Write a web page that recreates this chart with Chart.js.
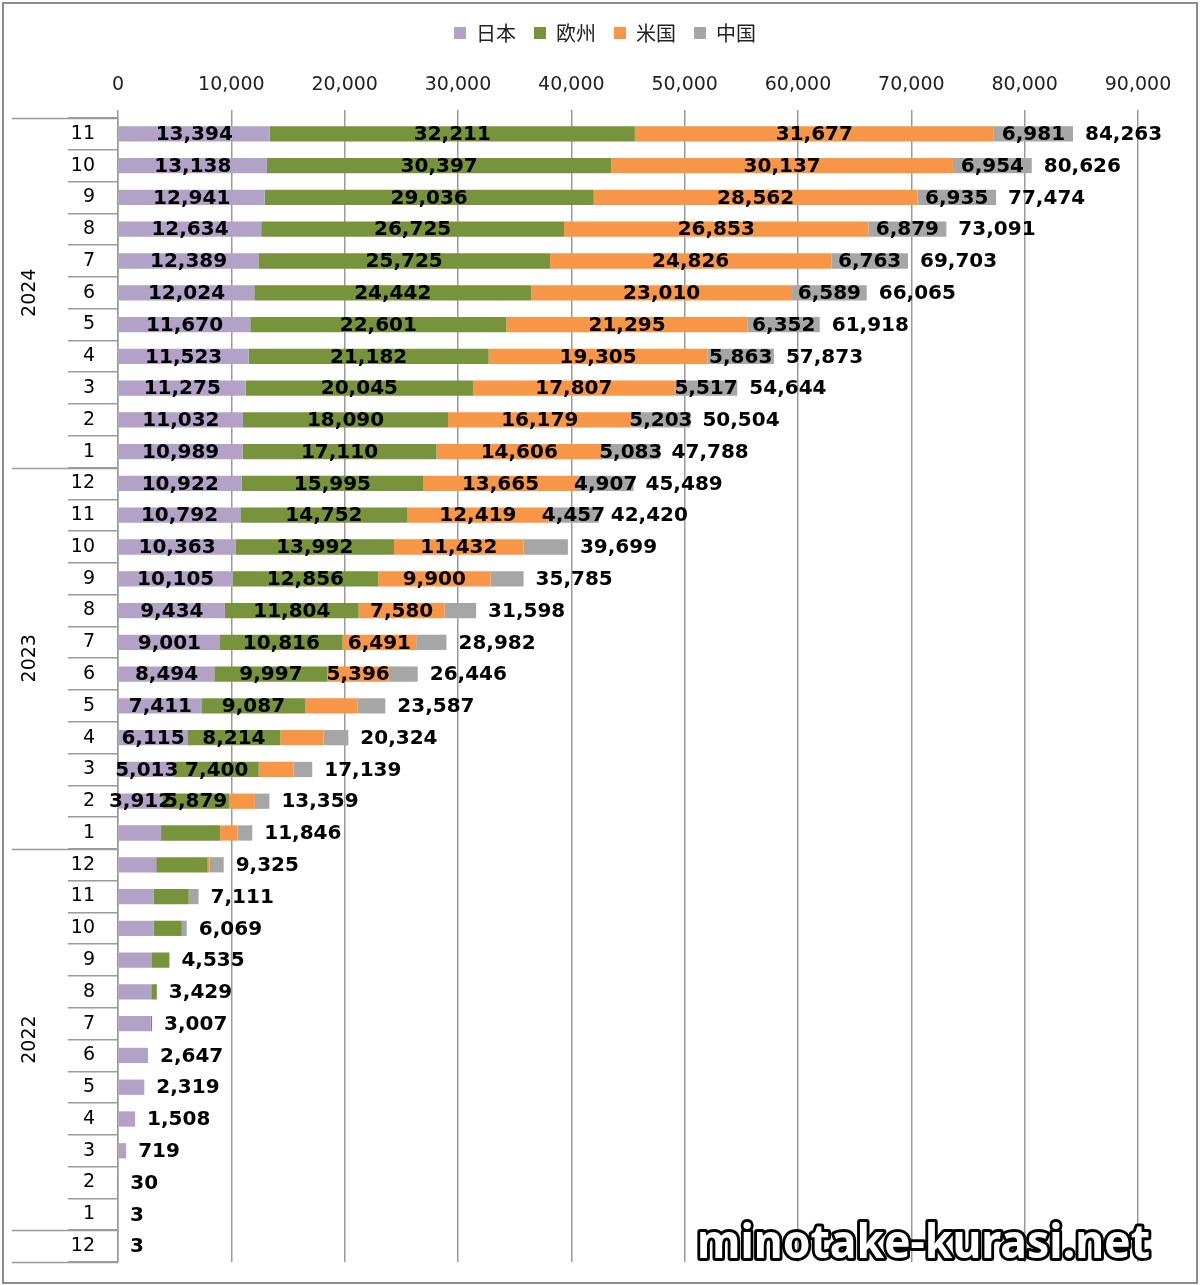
<!DOCTYPE html>
<html lang="ja">
<head>
<meta charset="utf-8">
<title>地域別 累計</title>
<script src="https://cdn.jsdelivr.net/npm/chart.js@4.4.1/dist/chart.umd.min.js"></script>
<style>
  html, body { margin: 0; padding: 0; background: #fff; }
  #wrap { width: 1200px; height: 1285px; }
</style>
</head>
<body>
<div id="wrap"><canvas id="chart" width="1200" height="1285"></canvas></div>
<script>
// rows top -> bottom: 2024/11 ... 2021/12
const categories = [
    '2024/11', '2024/10', '2024/9', '2024/8', '2024/7', '2024/6', '2024/5', '2024/4', '2024/3', '2024/2', '2024/1',
    '2023/12', '2023/11', '2023/10', '2023/9', '2023/8', '2023/7', '2023/6', '2023/5', '2023/4', '2023/3', '2023/2', '2023/1',
    '2022/12', '2022/11', '2022/10', '2022/9', '2022/8', '2022/7', '2022/6', '2022/5', '2022/4', '2022/3', '2022/2', '2022/1',
    '2021/12'
];
const yearLabels = ['2024', '2023', '2022', ''];
const yearCounts = [11, 12, 12, 1];

const seriesNames = ['日本', '欧州', '米国', '中国'];

const japan = [
    13394, 13138, 12941, 12634, 12389, 12024, 11670, 11523, 11275, 11032, 10989,
    10922, 10792, 10363, 10105, 9434, 9001, 8494, 7411, 6115, 5013, 3912, 3800,
    3370, 3140, 3140, 3000, 2935, 2890, 2647, 2319, 1508, 719, 30, 3,
    3
];
const europe = [
    32211, 30397, 29036, 26725, 25725, 24442, 22601, 21182, 20045, 18090, 17110,
    15995, 14752, 13992, 12856, 11804, 10816, 9997, 9087, 8214, 7400, 5879, 5210,
    4545, 3100, 2490, 1535, 494, 117, 0, 0, 0, 0, 0, 0,
    0
];
const usa = [
    31677, 30137, 28562, 26853, 24826, 23010, 21295, 19305, 17807, 16179, 14606,
    13665, 12419, 11432, 9900, 7580, 6491, 5396, 4650, 3800, 3060, 2290, 1520,
    150, 0, 0, 0, 0, 0, 0, 0, 0, 0, 0, 0,
    0
];
const china = [
    6981, 6954, 6935, 6879, 6763, 6589, 6352, 5863, 5517, 5203, 5083,
    4907, 4457, 3912, 2924, 2780, 2674, 2559, 2439, 2195, 1666, 1278, 1316,
    1260, 871, 439, 0, 0, 0, 0, 0, 0, 0, 0, 0,
    0
];
const totals = [
    84263, 80626, 77474, 73091, 69703, 66065, 61918, 57873, 54644, 50504, 47788,
    45489, 42420, 39699, 35785, 31598, 28982, 26446, 23587, 20324, 17139, 13359, 11846,
    9325, 7111, 6069, 4535, 3429, 3007, 2647, 2319, 1508, 719, 30, 3,
    3
];
// segments smaller than this carry no label in the original
const labelMin = [3900, 5500, 5000, 4400];

const xTicks = [0, 10000, 20000, 30000, 40000, 50000, 60000, 70000, 80000, 90000];

const colors = ['#b3a2c7', '#77933c', '#f79646', '#a6a6a6'];
const LINE = '#9a9a9a';
const NUM_FONT = "'DejaVu Sans', Verdana, sans-serif";

const fmt = v => v.toLocaleString('en-US');

// Extra drawing: segment values, totals, year grouping, frame, watermark
const decorPlugin = {
    id: 'decor',
    afterLayout(chart) {
        // the original legend sits a bit right of centre
        chart.legend.left += 60;
    },
    afterDatasetsDraw(chart) {
        const ctx = chart.ctx;
        const xScale = chart.scales.x;
        ctx.save();
        ctx.font = 'bold 20px ' + NUM_FONT;
        ctx.fillStyle = '#000';
        ctx.textBaseline = 'middle';

        // values inside each segment
        ctx.textAlign = 'center';
        chart.data.datasets.forEach((ds, di) => {
            const meta = chart.getDatasetMeta(di);
            meta.data.forEach((bar, i) => {
                const v = ds.data[i];
                if (v < labelMin[di]) return;
                ctx.fillText(fmt(v), (bar.x + bar.base) / 2, bar.y + 1);
            });
        });

        // totals after each bar
        ctx.textAlign = 'left';
        const meta0 = chart.getDatasetMeta(0);
        totals.forEach((t, i) => {
            const x = xScale.getPixelForValue(t) + 12;
            ctx.fillText(fmt(t), x, meta0.data[i].y + 1);
        });
        ctx.restore();
    },
    afterDraw(chart) {
        const ctx = chart.ctx;
        const yScale = chart.scales.y;
        const area = chart.chartArea;
        const half = (yScale.getPixelForValue(1) - yScale.getPixelForValue(0)) / 2;
        ctx.save();

        // year separators and rotated year labels
        ctx.strokeStyle = LINE;
        ctx.lineWidth = 1.5;
        let idx = 0;
        const edges = [yScale.getPixelForValue(0) - half];
        yearCounts.forEach((n, g) => {
            const top = yScale.getPixelForValue(idx) - half;
            const bottom = yScale.getPixelForValue(idx + n - 1) + half;
            edges.push(bottom);
            if (yearLabels[g]) {
                ctx.save();
                ctx.translate(30, (top + bottom) / 2);
                ctx.rotate(-Math.PI / 2);
                ctx.font = '19px ' + NUM_FONT;
                ctx.fillStyle = '#000';
                ctx.textAlign = 'center';
                ctx.textBaseline = 'middle';
                ctx.fillText(yearLabels[g], 0, 0);
                ctx.restore();
            }
            idx += n;
        });
        edges.forEach(y => {
            ctx.beginPath();
            ctx.moveTo(12, Math.round(y) + 0.5);
            ctx.lineTo(area.left, Math.round(y) + 0.5);
            ctx.stroke();
        });

        // outer frame
        ctx.strokeStyle = '#8c8c8c';
        ctx.lineWidth = 2;
        ctx.strokeRect(3, 3, chart.width - 6, chart.height - 5);

        // watermark
        ctx.font = "bold 46px 'Noto Sans', 'DejaVu Sans', sans-serif";
        ctx.textAlign = 'left';
        ctx.textBaseline = 'alphabetic';
        ctx.lineJoin = 'round';
        ctx.lineWidth = 6;
        ctx.strokeStyle = '#000';
        ctx.strokeText('minotake-kurasi.net', 697, 1258, 453);
        ctx.fillStyle = '#fff';
        ctx.fillText('minotake-kurasi.net', 697, 1258, 453);
        ctx.restore();
    }
};

const seriesData = [japan, europe, usa, china];

new Chart(document.getElementById('chart'), {
    type: 'bar',
    data: {
        labels: categories,
        datasets: seriesNames.map((name, i) => ({
            label: name,
            data: seriesData[i],
            backgroundColor: colors[i],
            borderWidth: 0,
            categoryPercentage: 1,
            barPercentage: 0.48
        }))
    },
    options: {
        indexAxis: 'y',
        responsive: false,
        animation: false,
        devicePixelRatio: 1,
        layout: {
            padding: { top: 5, left: 12, right: 62, bottom: 23 }
        },
        plugins: {
            legend: {
                position: 'top',
                labels: {
                    boxWidth: 12,
                    boxHeight: 12,
                    padding: 18,
                    color: '#222',
                    font: { size: 20, family: "'Noto Sans CJK JP', sans-serif" }
                }
            },
            tooltip: { enabled: false }
        },
        scales: {
            x: {
                position: 'top',
                stacked: true,
                min: 0,
                max: 90000,
                afterBuildTicks: scale => {
                    scale.ticks = xTicks.map(v => ({ value: v }));
                },
                afterFit: scale => { scale.height = 65; },
                border: { display: false },
                grid: {
                    color: LINE,
                    lineWidth: 1.5,
                    tickLength: 8
                },
                ticks: {
                    padding: 14,
                    color: '#222',
                    font: { size: 19, family: NUM_FONT },
                    callback: v => fmt(v)
                }
            },
            y: {
                stacked: true,
                afterFit: scale => { scale.width = 106; },
                border: { display: true, color: LINE, width: 1.5 },
                grid: {
                    drawOnChartArea: false,
                    color: LINE,
                    lineWidth: 1.5,
                    tickLength: 50
                },
                ticks: {
                    padding: -27,
                    color: '#000',
                    font: { size: 19, family: NUM_FONT },
                    callback: function (v) {
                        return this.getLabelForValue(v).split('/')[1];
                    }
                }
            }
        }
    },
    plugins: [decorPlugin]
});
</script>
</body>
</html>
